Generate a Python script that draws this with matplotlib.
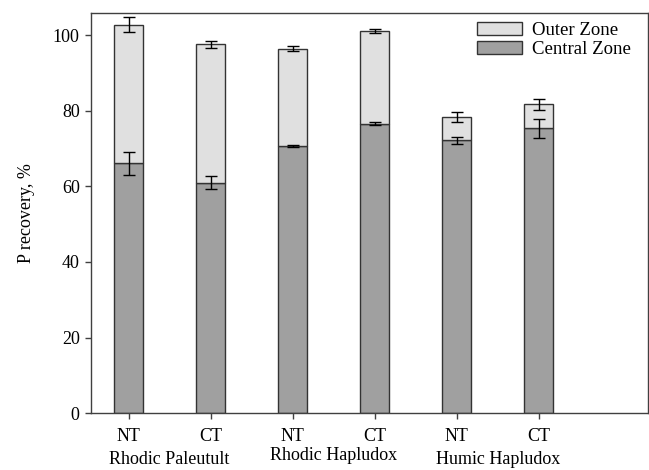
import matplotlib
matplotlib.use("Agg")
import matplotlib.pyplot as plt
import numpy as np

treatments = ["NT", "CT", "NT", "CT", "NT", "CT"]
soils = ["Rhodic Paleutult", "Rhodic Hapludox", "Humic Hapludox"]
central = [66.1, 61.0, 70.7, 76.6, 72.2, 75.3]
central_err = [3.0, 1.6, 0.3, 0.3, 0.9, 2.4]
total = [102.7, 97.6, 96.4, 101.1, 78.4, 81.7]
total_err = [2.0, 0.9, 0.6, 0.5, 1.3, 1.5]
outer = [t - c for t, c in zip(total, central)]

plt.rcParams['font.family'] = ['Liberation Serif', 'DejaVu Serif']
fig = plt.figure(figsize=(6.49, 4.70), dpi=100)
ax = fig.add_axes([0.140, 0.121, 0.858, 0.851])

x = np.arange(len(treatments))
w = 0.35
edge = '#333333'
ax.bar(x, central, w, color='#a0a0a0', edgecolor=edge, linewidth=1.0, label='Central Zone', zorder=2)
ax.bar(x, outer, w, bottom=central, color='#e0e0e0', edgecolor=edge, linewidth=1.0, label='Outer Zone', zorder=2)
ax.errorbar(x, central, yerr=central_err, fmt='none', ecolor='black', elinewidth=1.0, capsize=4, capthick=1.0, zorder=3)
ax.errorbar(x, total, yerr=total_err, fmt='none', ecolor='black', elinewidth=1.0, capsize=4, capthick=1.0, zorder=3)

ax.set_xlim(-0.46, 6.33)
ax.set_ylim(0, 105.8)
ax.set_yticks([0, 20, 40, 60, 80, 100])
ax.set_xticks(x)
ax.set_xticklabels(treatments)
ax.tick_params(axis='both', direction='out', labelsize=13, color='#404040', length=4.5, width=1.0)
ax.tick_params(axis='x', pad=6)
for s in ax.spines.values():
    s.set_color('#404040')
    s.set_linewidth(1.0)

ax.set_ylabel('P recovery, %', fontsize=13)
ax.yaxis.set_label_coords(-0.101, 0.5)

# group labels in figure pixels (centre y)
group_y = [460, 456, 460]
for i, (name, gy) in enumerate(zip(soils, group_y)):
    xd = ax.transData.transform((2 * i + 0.5, 0))[0]
    fig.text(xd / fig.bbox.width, 1 - gy / 470.0, name, ha='center', va='center', fontsize=13)

h, l = ax.get_legend_handles_labels()
ax.legend(h[::-1], l[::-1], loc='upper left', bbox_to_anchor=(0.693, 0.977), frameon=False, fontsize=13.5,
          handlelength=2.4, handleheight=0.7, handletextpad=0.55, labelspacing=0.08, borderpad=0.0,
          borderaxespad=0.0)

fig.savefig('out.png', dpi=100)
